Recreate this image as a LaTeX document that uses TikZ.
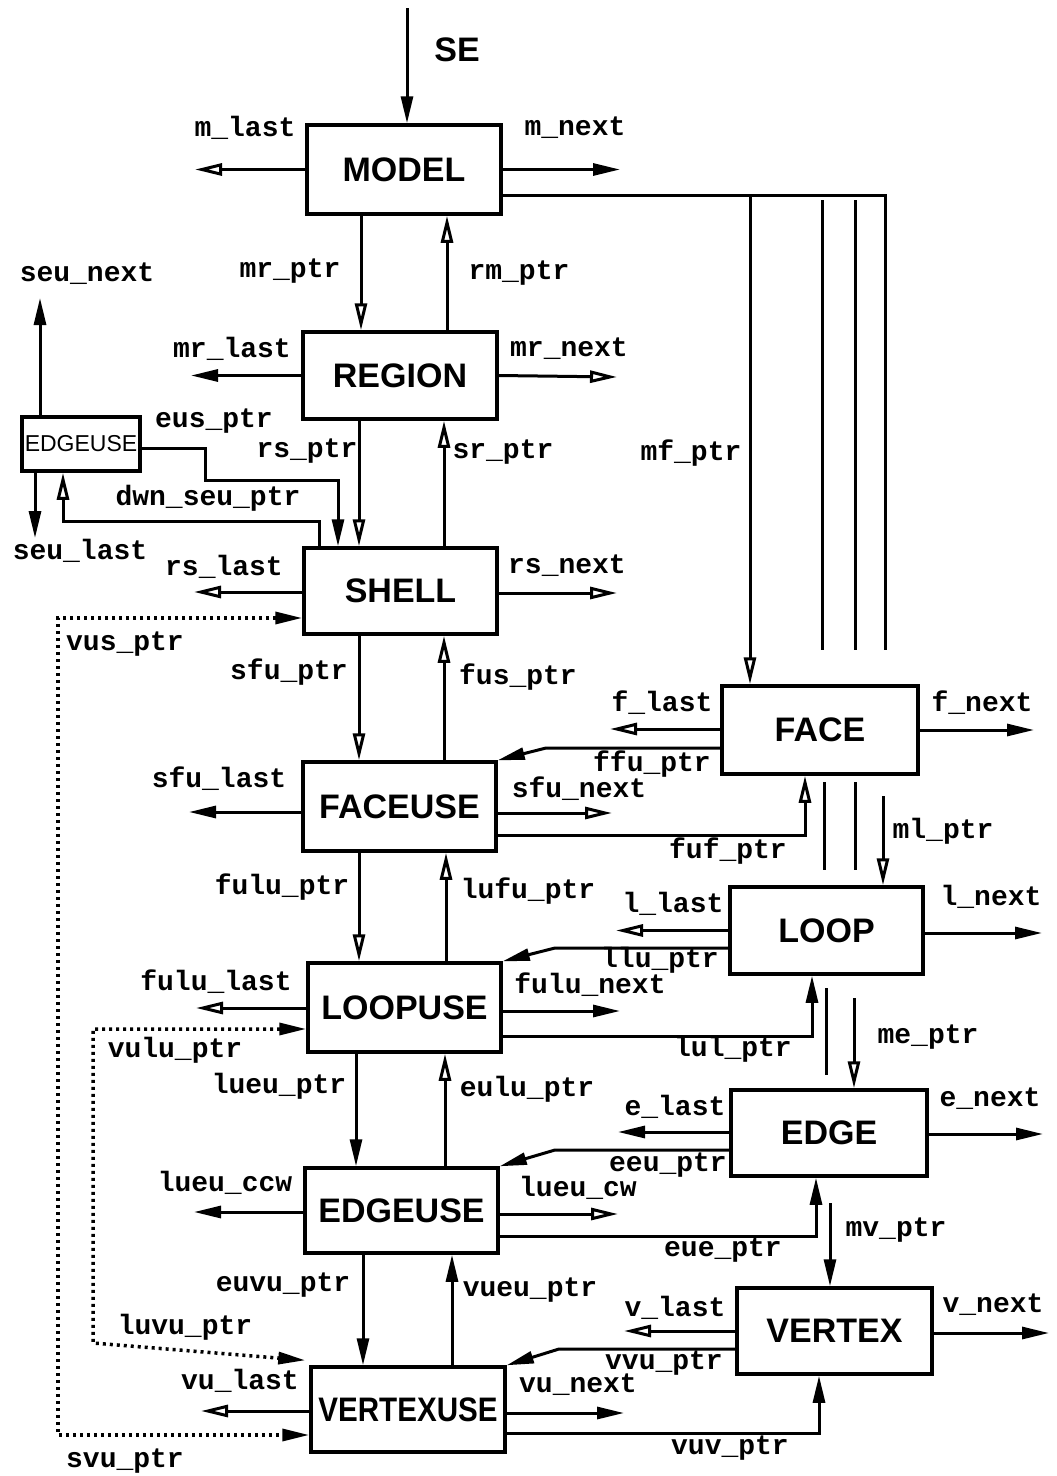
\documentclass[tikz,border=0pt]{standalone}
\usepackage{fontspec}
\setmainfont{Liberation Sans}
\newfontfamily\lmono{Liberation Mono}
\usetikzlibrary{arrows.meta}
\begin{document}
\begin{tikzpicture}[x=1pt,y=-1pt,
  box/.style={draw,line width=3.5pt,inner sep=0pt,minimum width=193pt,minimum height=87pt,font=\bfseries\fontsize{34}{34}\selectfont},
  lbl/.style={inner sep=0pt,font=\lmono\bfseries\fontsize{28}{28}\selectfont},
  ln/.style={line width=3pt},
  fa/.style={ln,-{Triangle[length=27pt,width=12pt]}},
  oa/.style={ln,-{Triangle[open,length=27pt,width=12pt]}},
  dots/.style={line width=3.5pt,dash pattern=on 3pt off 4pt},
  dd/.style={dots,{Triangle[length=27pt,width=12pt]}-{Triangle[length=27pt,width=12pt]}}
]
\useasboundingbox (0,0) rectangle (1057,1476);

% boxes
\node[box,minimum width=194pt,minimum height=89pt] (model) at (404,169.5) {MODEL};
\node[box,minimum width=194pt] (region) at (400,375.5) {REGION};
\node[box,minimum height=86pt] (shell) at (400.5,591) {SHELL};
\node[box,minimum height=89pt] (faceuse) at (399.5,806.5) {FACEUSE};
\node[box,minimum height=89pt] (loopuse) at (404.5,1007.5) {LOOPUSE};
\node[box,minimum height=85pt] (edgeuse) at (401.5,1210.5) {EDGEUSE};
\node[box,minimum width=194pt,minimum height=85pt] (vertexuse) at (408,1409.5) {\scalebox{0.87}[1]{VERTEXUSE}};
\node[box,minimum width=118pt,minimum height=54pt,font=\fontsize{23}{23}\selectfont] (seu) at (81,444) {EDGEUSE};
\node[box,minimum width=196pt,minimum height=88pt] (face) at (820,730) {FACE};
\node[box,minimum height=87pt] (loop) at (826.5,930.5) {LOOP};
\node[box,minimum width=196pt,minimum height=86pt] (edge) at (829,1133) {EDGE};
\node[box,minimum width=195pt,minimum height=86pt] (vertex) at (834.5,1331) {VERTEX};

% free-end coordinates
\coordinate (setop) at (407,8);
\coordinate (mlastE) at (195,169.5);
\coordinate (mnextE) at (620,169.5);
\coordinate (mcorner) at (885,650);
\coordinate (mfj) at (750,195);
\coordinate (mA1) at (822,200); \coordinate (mA2) at (822,650);
\coordinate (mB1) at (855,200); \coordinate (mB2) at (855,650);
\coordinate (fA1) at (824,782); \coordinate (fA2) at (824,870);
\coordinate (fB1) at (855,782); \coordinate (fB2) at (855,870);
\coordinate (mlS) at (883,796);
\coordinate (lA1) at (826,988); \coordinate (lA2) at (826,1075);
\coordinate (meS) at (854,998);
\coordinate (mvS) at (830,1203);
\coordinate (mrlastE) at (191,375.5);
\coordinate (mrnextE) at (617,377);
\coordinate (seunextE) at (40,298);
\coordinate (seulastE) at (35,538);
\coordinate (rslastE) at (194,592);
\coordinate (rsnextE) at (617,593);
\coordinate (vusc) at (58,1435);
\coordinate (sfulastE) at (189,812);
\coordinate (sfunextE) at (612,813);
\coordinate (flastE) at (610,729);
\coordinate (fnextE) at (1034,730);
\coordinate (ffuB) at (546,748);
\coordinate (fululastE) at (196,1008);
\coordinate (fulunextE) at (620,1011);
\coordinate (llastE) at (616,930.5);
\coordinate (lnextE) at (1042,933);
\coordinate (lluB) at (555,948);
\coordinate (vuluc) at (93,1343);
\coordinate (lueuccwE) at (194,1212);
\coordinate (lueucwE) at (618,1214);
\coordinate (elastE) at (618,1132);
\coordinate (enextE) at (1043,1134);
\coordinate (eeuB) at (555,1150);
\coordinate (vulastE) at (201,1411);
\coordinate (vunextE) at (624,1413);
\coordinate (vlastE) at (624,1331);
\coordinate (vnextE) at (1049,1333);
\coordinate (vvuB) at (559,1349);

% MODEL
\draw[fa] (setop) -- (model.north -| setop);
\draw[oa] (model.west) -- (mlastE);
\draw[fa] (model.east) -- (mnextE);
\draw[ln] (model.east |- mfj) -| (mcorner);
\draw[oa] (mfj) -- (face.north -| mfj);
\draw[ln] (mA1) -- (mA2);
\draw[ln] (mB1) -- (mB2);
\draw[ln] (fA1) -- (fA2);
\draw[ln] (fB1) -- (fB2);
\draw[oa] (mlS) -- (loop.north -| mlS);
\draw[ln] (lA1) -- (lA2);
\draw[oa] (meS) -- (edge.north -| meS);
\draw[fa] (mvS) -- (vertex.north -| mvS);

% MODEL - REGION
\draw[oa] (model.south -| 361,0) -- (region.north -| 361,0);
\draw[oa] (region.north -| 447,0) -- (model.south -| 447,0);
\draw[fa] (region.west) -- (mrlastE);
\draw[oa] (region.east) -- (mrnextE);

% small EDGEUSE
\draw[fa] (seu.north -| seunextE) -- (seunextE);
\draw[fa] (seu.south -| seulastE) -- (seulastE);
\draw[fa] (seu.east |- 0,448) -- (205,448) -- (205,480) -- (338,480) -- (shell.north -| 338,0);
\draw[oa] (shell.north -| 319,0) -- (319,521) -- (63,521) -- (seu.south -| 63,0);

% REGION - SHELL
\draw[oa] (region.south -| 359,0) -- (shell.north -| 359,0);
\draw[oa] (shell.north -| 444,0) -- (region.south -| 444,0);
\draw[oa] (shell.west |- rslastE) -- (rslastE);
\draw[oa] (shell.east |- rsnextE) -- (rsnextE);
\draw[dd] (shell.west |- 0,618) -| (vusc) -- (vertexuse.west |- vusc);

% SHELL - FACEUSE
\draw[oa] (shell.south -| 359,0) -- (faceuse.north -| 359,0);
\draw[oa] (faceuse.north -| 444,0) -- (shell.south -| 444,0);
\draw[fa] (faceuse.west |- sfulastE) -- (sfulastE);
\draw[oa] (faceuse.east |- sfunextE) -- (sfunextE);
\draw[oa] (faceuse.east |- 0,835) -| (face.south -| 805,0);
\draw[fa] (face.west |- ffuB) -- (ffuB) -- (faceuse.north east);
\draw[oa] (face.west |- flastE) -- (flastE);
\draw[fa] (face.east) -- (fnextE);

% FACEUSE - LOOPUSE
\draw[oa] (faceuse.south -| 359,0) -- (loopuse.north -| 359,0);
\draw[oa] (loopuse.north -| 446,0) -- (faceuse.south -| 446,0);
\draw[oa] (loopuse.west |- fululastE) -- (fululastE);
\draw[fa] (loopuse.east |- fulunextE) -- (fulunextE);
\draw[fa] (loopuse.east |- 0,1036) -| (loop.south -| 812,0);
\draw[fa] (loop.west |- lluB) -- (lluB) -- (loopuse.north east);
\draw[oa] (loop.west) -- (llastE);
\draw[fa] (loop.east |- lnextE) -- (lnextE);
\draw[dd] (loopuse.west |- 0,1029) -| (vuluc) -- ([shift={(-4,-5)}]vertexuse.north west);

% LOOPUSE - EDGEUSE
\draw[fa] (loopuse.south -| 356,0) -- (edgeuse.north -| 356,0);
\draw[oa] (edgeuse.north -| 445,0) -- (loopuse.south -| 445,0);
\draw[fa] (edgeuse.west |- lueuccwE) -- (lueuccwE);
\draw[oa] (edgeuse.east |- lueucwE) -- (lueucwE);
\draw[fa] (edgeuse.east |- 0,1236) -| (edge.south -| 816,0);
\draw[fa] (edge.west |- eeuB) -- (eeuB) -- (edgeuse.north east);
\draw[fa] (edge.west |- elastE) -- (elastE);
\draw[fa] (edge.east |- enextE) -- (enextE);

% EDGEUSE - VERTEXUSE
\draw[fa] (edgeuse.south -| 363,0) -- (vertexuse.north -| 363,0);
\draw[fa] (vertexuse.north -| 452,0) -- (edgeuse.south -| 452,0);
\draw[oa] (vertexuse.west |- vulastE) -- (vulastE);
\draw[fa] (vertexuse.east |- vunextE) -- (vunextE);
\draw[fa] (vertexuse.east |- 0,1433) -| (vertex.south -| 819,0);
\draw[fa] (vertex.west |- vvuB) -- (vvuB) -- (vertexuse.north east);
\draw[oa] (vertex.west) -- (vlastE);
\draw[fa] (vertex.east |- vnextE) -- (vnextE);

% labels
\node[font=\bfseries\fontsize{34}{34}\selectfont,inner sep=0pt] (lSE) at (457,50) {SE};
\node[lbl] (l1) at (245,128) {m\_last};
\node[lbl] (l2) at (575,128) {m\_next};
\node[lbl] (l3) at (87,274) {seu\_next};
\node[lbl] (l4) at (290,271) {mr\_ptr};
\node[lbl] (l5) at (519,273) {rm\_ptr};
\node[lbl] (l6) at (232,349) {mr\_last};
\node[lbl] (l7) at (569,349) {mr\_next};
\node[lbl] (l8) at (214,421) {eus\_ptr};
\node[lbl] (l9) at (307,451) {rs\_ptr};
\node[lbl] (l10) at (503,452) {sr\_ptr};
\node[lbl] (l11) at (691,453) {mf\_ptr};
\node[lbl] (l12) at (208,498) {dwn\_seu\_ptr};
\node[lbl] (l13) at (80,551) {seu\_last};
\node[lbl] (l14) at (224,567) {rs\_last};
\node[lbl] (l15) at (567,566) {rs\_next};
\node[lbl] (l16) at (125,644) {vus\_ptr};
\node[lbl] (l17) at (289,672) {sfu\_ptr};
\node[lbl] (l18) at (518,677) {fus\_ptr};
\node[lbl] (l19) at (662,703) {f\_last};
\node[lbl] (l20) at (982,703) {f\_next};
\node[lbl] (l21) at (652,764) {ffu\_ptr};
\node[lbl] (l22) at (579,789) {sfu\_next};
\node[lbl] (l23) at (219,779) {sfu\_last};
\node[lbl] (l24) at (943,831) {ml\_ptr};
\node[lbl] (l25) at (728,851) {fuf\_ptr};
\node[lbl] (l26) at (282,887) {fulu\_ptr};
\node[lbl] (l27) at (528,891) {lufu\_ptr};
\node[lbl] (l28) at (673,904) {l\_last};
\node[lbl] (l29) at (991,897) {l\_next};
\node[lbl] (l30) at (660,960) {llu\_ptr};
\node[lbl] (l31) at (590,985) {fulu\_next};
\node[lbl] (l32) at (216,982) {fulu\_last};
\node[lbl] (l33) at (175,1050) {vulu\_ptr};
\node[lbl] (l34) at (928,1037) {me\_ptr};
\node[lbl] (l35) at (733,1049) {lul\_ptr};
\node[lbl] (l36) at (279,1086) {lueu\_ptr};
\node[lbl] (l37) at (527,1089) {eulu\_ptr};
\node[lbl] (l38) at (675,1107) {e\_last};
\node[lbl] (l39) at (990,1099) {e\_next};
\node[lbl] (l40) at (668,1165) {eeu\_ptr};
\node[lbl] (l41) at (578,1188) {lueu\_cw};
\node[lbl] (l42) at (225,1183) {lueu\_ccw};
\node[lbl] (l43) at (896,1230) {mv\_ptr};
\node[lbl] (l44) at (723,1250) {eue\_ptr};
\node[lbl] (l45) at (283,1285) {euvu\_ptr};
\node[lbl] (l46) at (530,1290) {vueu\_ptr};
\node[lbl] (l47) at (675,1308) {v\_last};
\node[lbl] (l48) at (993,1305) {v\_next};
\node[lbl] (l49) at (185,1327) {luvu\_ptr};
\node[lbl] (l50) at (664,1363) {vvu\_ptr};
\node[lbl] (l51) at (578,1385) {vu\_next};
\node[lbl] (l52) at (240,1381) {vu\_last};
\node[lbl] (l53) at (730,1448) {vuv\_ptr};
\node[lbl] (l54) at (125,1461) {svu\_ptr};
\end{tikzpicture}
\end{document}
